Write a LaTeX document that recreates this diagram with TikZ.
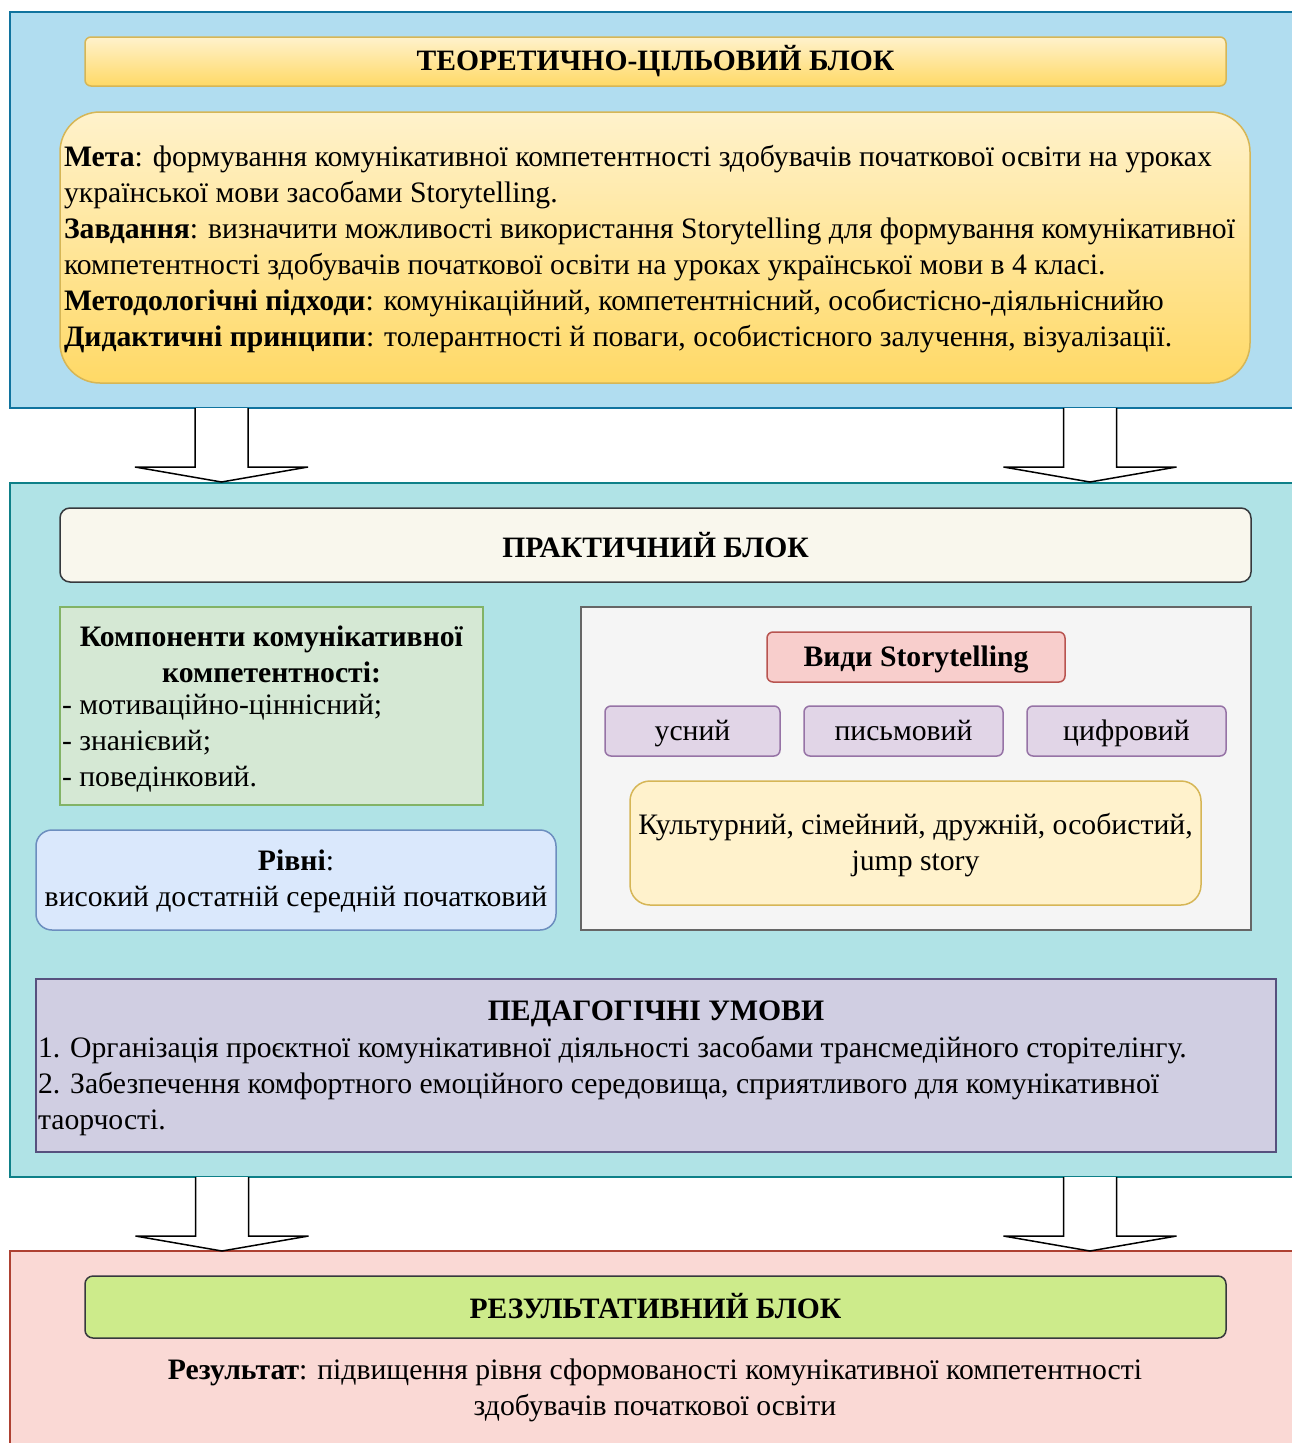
\documentclass[tikz,border=0pt]{standalone}
\usepackage{fontspec}
\setmainfont{Liberation Serif}
\definecolor{blueBg}{HTML}{B1DDF0}\definecolor{blueBd}{HTML}{10739E}
\definecolor{tealBg}{HTML}{B0E3E6}\definecolor{tealBd}{HTML}{0E8088}
\definecolor{pinkBg}{HTML}{FAD9D5}\definecolor{pinkBd}{HTML}{AE4132}
\definecolor{ylTop}{HTML}{FFF2CC}\definecolor{ylBot}{HTML}{FFD966}\definecolor{ylBd}{HTML}{D6B656}
\definecolor{creamBg}{HTML}{F9F7ED}\definecolor{darkBd}{HTML}{36393D}
\definecolor{grnBg}{HTML}{D5E8D4}\definecolor{grnBd}{HTML}{82B366}
\definecolor{lbBg}{HTML}{DAE8FC}\definecolor{lbBd}{HTML}{6C8EBF}
\definecolor{grayBg}{HTML}{F5F5F5}\definecolor{grayBd}{HTML}{666666}
\definecolor{redBg}{HTML}{F8CECC}\definecolor{redBd}{HTML}{B85450}
\definecolor{purBg}{HTML}{E1D5E7}\definecolor{purBd}{HTML}{9673A6}
\definecolor{lavBg}{HTML}{D0CEE2}\definecolor{lavBd}{HTML}{56517E}
\definecolor{limeBg}{HTML}{CDEB8B}
\begin{document}
\begin{tikzpicture}[x=1pt,y=-1pt,
  box/.style={draw, line width=1.5pt, inner sep=0pt, outer sep=0pt, align=center},
  txt/.style={inner sep=0pt, outer sep=0pt, font=\fontsize{29.7}{36}\selectfont},
  ttl/.style={inner sep=0pt, outer sep=0pt, font=\fontsize{29.6}{36}\selectfont\bfseries},
  strutted/.style={text height=20pt, text depth=7pt},
  grad/.style={box, top color=ylTop, bottom color=ylBot, draw=ylBd},
  downarrow/.pic={
    \fill[white] (-26.5,0) -- (-26.5,59) -- (-86.5,59) -- (0,74) -- (86.5,59) -- (26.5,59) -- (26.5,0) -- cycle;
    \draw[line width=1.5pt, line join=miter] (-26.5,0) -- (-26.5,59) -- (-86.5,59) -- (0,74) -- (86.5,59) -- (26.5,59) -- (26.5,0);
  }]
\useasboundingbox (0,0) rectangle (1291,1443);
\fill[white] (0,0) rectangle (1291,1443);

% ---------- top block ----------
\node[box, fill=blueBg, draw=blueBd, minimum width=1300, minimum height=396, anchor=north west] (topblk) at (10,12) {};
\node[grad, rounded corners=6, minimum width=1141, minimum height=49] (t1) at (655.5,61.5) {};
\node[ttl] (t1txt) at (655.5,61) {ТЕОРЕТИЧНО-ЦІЛЬОВИЙ БЛОК};
\node[grad, rounded corners=40, minimum width=1190, minimum height=271] (goal) at (655,247.5) {};
\node[txt, align=left, anchor=west] (goaltxt) at (64,249) {%
\textbf{Мета}: формування комунікативної компетентності здобувачів початкової освіти на уроках\\
української мови засобами Storytelling.\\
\textbf{Завдання}: визначити можливості використання Storytelling для формування комунікативної\\
компетентності здобувачів початкової освіти на уроках української мови в 4 класі.\\
\textbf{Методологічні підходи}: комунікаційний, компетентнісний, особистісно-діяльніснийю\\
\textbf{Дидактичні принципи}: толерантності й поваги, особистісного залучення, візуалізації.};

% ---------- middle block ----------
\node[box, fill=tealBg, draw=tealBd, minimum width=1300, minimum height=694, anchor=north west] (midblk) at (10,483) {};
\node[box, fill=creamBg, draw=darkBd, rounded corners=10, minimum width=1191, minimum height=74] (prac) at (655.5,545) {};
\node[ttl] (practxt) at (655.5,545) {ПРАКТИЧНИЙ БЛОК};

\node[box, fill=grnBg, draw=grnBd, minimum width=423, minimum height=198] (comp) at (271.5,706) {};
\node[txt, align=center] (comptitle) at (271.5,654) {\textbf{Компоненти комунікативної}\\\textbf{компетентності:}};
\node[txt, align=left, anchor=west] (complist) at (62,743) {- мотиваційно-ціннісний;\\- знанієвий;\\- поведінковий.};

\node[box, fill=lbBg, draw=lbBd, rounded corners=16, minimum width=520, minimum height=100] (levels) at (296,880) {};
\node[txt, align=center] (levtxt) at (296,881.5) {\textbf{Рівні}:\\високий достатній середній початковий};

\node[box, fill=grayBg, draw=grayBd, minimum width=670, minimum height=323] (types) at (916,768.5) {};
\node[box, fill=redBg, draw=redBd, rounded corners=6, minimum width=298, minimum height=50] (vydy) at (916,657) {};
\node[txt, strutted] (vydytxt) at (916,660) {\textbf{Види Storytelling}};
\node[box, fill=purBg, draw=purBd, rounded corners=6, minimum width=175, minimum height=50] (usn) at (692.5,731) {};
\node[box, fill=purBg, draw=purBd, rounded corners=6, minimum width=199, minimum height=50] (pys) at (903.5,731) {};
\node[box, fill=purBg, draw=purBd, rounded corners=6, minimum width=199, minimum height=50] (tsy) at (1126.5,731) {};
\node[txt, strutted] (usntxt) at (692.5,734) {усний};
\node[txt, strutted] (pystxt) at (903.5,734) {письмовий};
\node[txt, strutted] (tsytxt) at (1126.5,734) {цифровий};
\node[box, fill=ylTop, draw=ylBd, rounded corners=20, minimum width=571, minimum height=124] (kinds) at (915.5,843) {};
\node[txt, align=center] (kindstxt) at (915.5,845) {Культурний, сімейний, дружній, особистий,\\jump story};

\node[box, fill=lavBg, draw=lavBd, minimum width=1240, minimum height=173] (ped) at (656,1065.5) {};
\node[txt] (pedtitle) at (656,1014) {\textbf{ПЕДАГОГІЧНІ УМОВИ}};
\node[txt, align=left, anchor=west] (pedtxt) at (38,1086.5) {%
1. Організація проєктної комунікативної діяльності засобами трансмедійного сторітелінгу.\\
2. Забезпечення комфортного емоційного середовища, сприятливого для комунікативної\\
таорчості.};

% ---------- bottom block ----------
\node[box, fill=pinkBg, draw=pinkBd, minimum width=1300, minimum height=220, anchor=north west] (botblk) at (10,1251) {};
\node[box, fill=limeBg, draw=darkBd, rounded corners=8, minimum width=1141, minimum height=62] (res) at (655.5,1307) {};
\node[ttl] (restxt) at (655.5,1306) {РЕЗУЛЬТАТИВНИЙ БЛОК};
\node[txt, align=center] (result) at (655,1390) {\textbf{Результат}: підвищення рівня сформованості комунікативної компетентності\\здобувачів початкової освіти};

% ---------- block arrows ----------
\pic at (221.5,408) {downarrow};
\pic at (1090,408) {downarrow};
\pic at (222,1177) {downarrow};
\pic at (1090,1177) {downarrow};
\end{tikzpicture}
\end{document}
